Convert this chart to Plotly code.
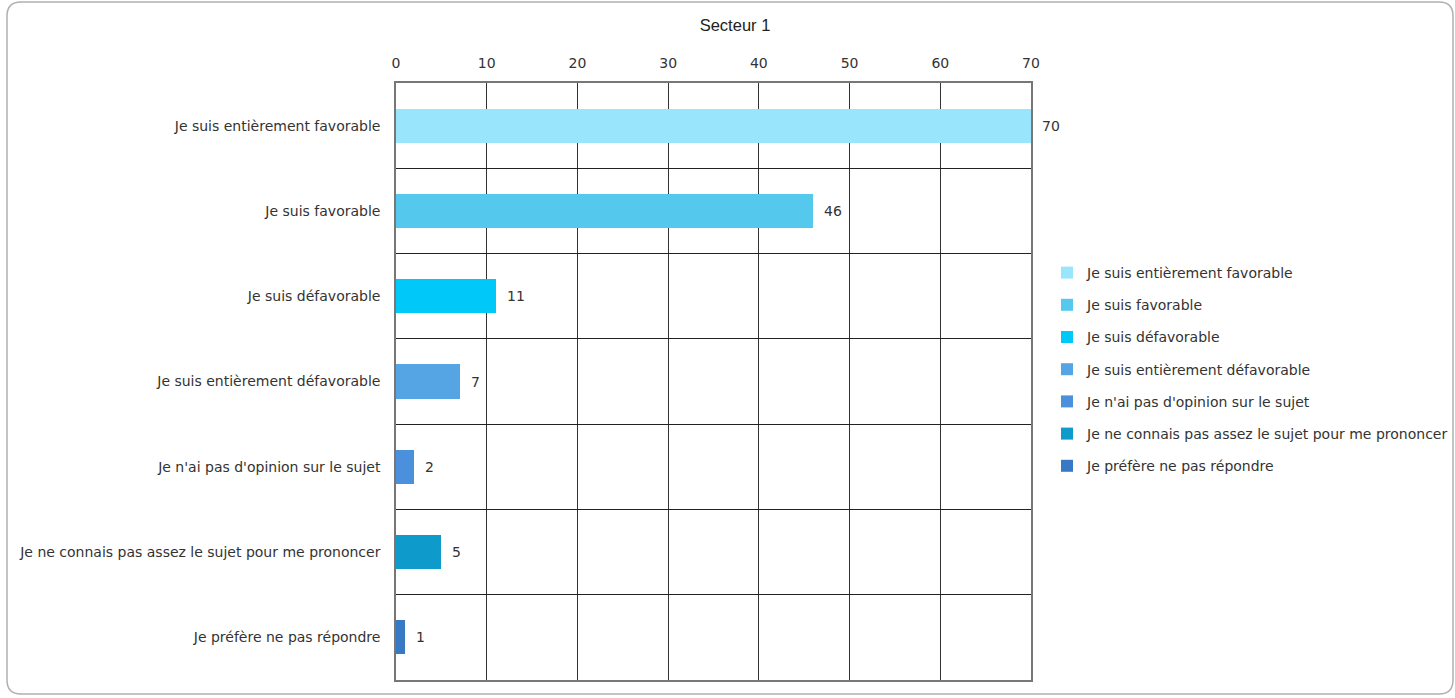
import plotly.graph_objects as go

categories = [
    "Je suis entièrement favorable",
    "Je suis favorable",
    "Je suis défavorable",
    "Je suis entièrement défavorable",
    "Je n'ai pas d'opinion sur le sujet",
    "Je ne connais pas assez le sujet pour me prononcer",
    "Je préfère ne pas répondre",
]
values = [70, 46, 11, 7, 2, 5, 1]
colors = ["#99E6FC", "#55C8EE", "#00C8F8", "#55A5E5", "#4A90DD", "#0E9BCB", "#3779C4"]
x_ticks = [0, 10, 20, 30, 40, 50, 60, 70]
title = "Secteur 1"

FONT = "DejaVu Sans"
TFONT = "Liberation Sans"
FS = 14
TXT = "#333333"

W, H = 1455, 698
L, R, T, B = 396, 1031, 83, 680

fig = go.Figure()
for i, (c, v) in enumerate(zip(categories, values)):
    fig.add_trace(go.Bar(
        x=[v], y=[c], orientation="h", name=c,
        marker=dict(color=colors[i], line=dict(width=0)),
        width=0.4,
        legendgroup=f"g{i}",
    ))
    fig.add_annotation(x=v, y=c, text=str(v), showarrow=False,
                       xanchor="left", xshift=9,
                       font=dict(family=FONT, size=FS, color=TXT))

pw, ph = R - L, B - T
def px(x): return (x - L) / pw
def py(y): return (B - y) / ph

# rounded outer frame
x0, x1, y0, y1 = px(7), px(1453), py(2), py(694)
rx, ry = 14 / pw, 14 / ph
path = (f"M {x0+rx},{y0} L {x1-rx},{y0} Q {x1},{y0} {x1},{y0-ry} "
        f"L {x1},{y1+ry} Q {x1},{y1} {x1-rx},{y1} "
        f"L {x0+rx},{y1} Q {x0},{y1} {x0},{y1+ry} "
        f"L {x0},{y0-ry} Q {x0},{y0} {x0+rx},{y0} Z")
fig.add_shape(type="path", path=path, xref="paper", yref="paper",
              line=dict(color="#B0B0B0", width=1.5), layer="below")

fig.update_layout(
    width=W, height=H,
    margin=dict(l=L, r=W - R, t=T, b=H - B, autoexpand=False),
    paper_bgcolor="white", plot_bgcolor="white",
    barmode="overlay", bargap=0,
    showlegend=True,
    title=dict(text=title, x=735 / W, xref="container", xanchor="center",
               y=1 - 25 / H, yref="container", yanchor="middle",
               font=dict(family=TFONT, size=16.5, color="#222222")),
    legend=dict(x=px(1047), y=py(257), xanchor="left", yanchor="top",
                font=dict(family=FONT, size=FS, color=TXT),
                tracegroupgap=11, itemwidth=30, bgcolor="rgba(0,0,0,0)"),
    font=dict(family=FONT, size=FS, color=TXT),
)
fig.update_xaxes(
    side="top", range=[0, 70], tickvals=x_ticks, ticktext=[str(t) for t in x_ticks],
    showgrid=True, gridcolor="#333333", gridwidth=1,
    showline=True, linecolor="#777777", linewidth=1.5, mirror=True,
    zeroline=False, ticks="", ticklabelstandoff=8,
    tickfont=dict(family=FONT, size=FS, color=TXT),
)
fig.update_yaxes(
    type="category", categoryorder="array", categoryarray=categories,
    autorange="reversed", tickson="boundaries",
    showgrid=True, gridcolor="#222222", gridwidth=1,
    showline=True, linecolor="#777777", linewidth=1.5, mirror=True,
    ticks="", ticklabelstandoff=11,
    tickfont=dict(family=FONT, size=FS, color=TXT),
)

fig.write_html("out.html", config={"displayModeBar": False},
               post_script="document.body.style.margin='0';document.body.style.overflow='hidden';")
